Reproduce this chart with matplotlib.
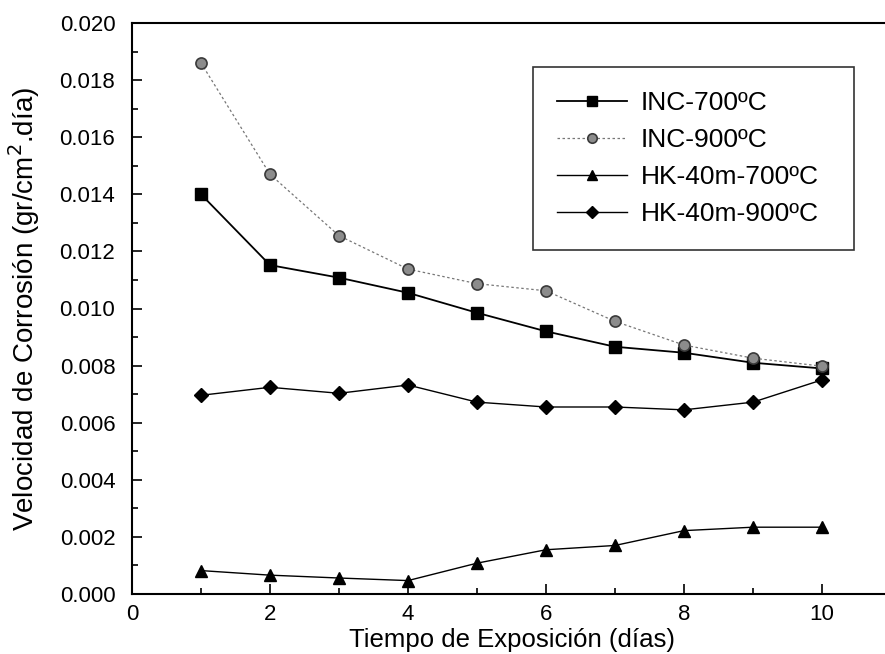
import numpy as np
import matplotlib
matplotlib.use("Agg")
import matplotlib.pyplot as plt
from matplotlib.ticker import MultipleLocator, FormatStrFormatter

plt.rcParams['font.family'] = ['Liberation Sans', 'DejaVu Sans']

dias = [1, 2, 3, 4, 5, 6, 7, 8, 9, 10]
inc_700 = [0.0140, 0.01152, 0.01108, 0.01055, 0.00985, 0.00920, 0.00866, 0.00845, 0.00810, 0.00790]
inc_900 = [0.0186, 0.0147, 0.01255, 0.01138, 0.01087, 0.01062, 0.00955, 0.00872, 0.00826, 0.00798]
hk_700 = [0.00082, 0.00066, 0.00056, 0.00047, 0.00108, 0.00155, 0.00170, 0.00222, 0.00234, 0.00234]
hk_900 = [0.00696, 0.00724, 0.00703, 0.00732, 0.00672, 0.00655, 0.00655, 0.00645, 0.00672, 0.00750]

fig = plt.figure(figsize=(8.85, 6.54), dpi=100)
# right side of the original is cut off, so the axes goes slightly past the figure
ax = fig.add_axes([132/885, 60/654, 759/885, 571/654])

ax.plot(dias, inc_700, color='black', lw=1.3, marker='s', ms=8, label='INC-700ºC')
ax.plot(dias, inc_900, color='#777777', lw=0.9, ls=(0, (2, 2)), marker='o', ms=8,
        mfc='#8c8c8c', mec='#3a3a3a', mew=1.2, label='INC-900ºC')
ax.plot(dias, hk_700, color='black', lw=1.0, marker='^', ms=9, label='HK-40m-700ºC')
ax.plot(dias, hk_900, color='black', lw=1.0, marker='D', ms=7, label='HK-40m-900ºC')

ax.set_xlim(0, 11)
ax.set_ylim(0, 0.020)
ax.xaxis.set_major_locator(MultipleLocator(2))
ax.xaxis.set_minor_locator(MultipleLocator(1))
ax.yaxis.set_major_locator(MultipleLocator(0.002))
ax.yaxis.set_minor_locator(MultipleLocator(0.001))
ax.yaxis.set_major_formatter(FormatStrFormatter('%.3f'))
ax.tick_params(which='both', direction='in', labelsize=16, width=1.2)
ax.tick_params(which='major', length=7)
ax.tick_params(which='minor', length=4)
ax.tick_params(axis='x', pad=7)
ax.tick_params(axis='y', pad=12)
for s in ax.spines.values():
    s.set_linewidth(1.5)

ax.set_xlabel('Tiempo de Exposición (días)', fontsize=18.5, labelpad=2)
ax.set_ylabel('Velocidad de Corrosión (gr/cm$^2$.día)', fontsize=20, labelpad=13)

leg = ax.legend(loc='upper left', bbox_to_anchor=(533/885, 1 - 245/654, 321/885, 178/654),
                bbox_transform=fig.transFigure, mode='expand', fontsize=19, frameon=True,
                fancybox=False, edgecolor='black', handlelength=2.65,
                handletextpad=0.5, labelspacing=0.49, borderpad=0.92,
                borderaxespad=0, markerscale=0.85)
leg.get_frame().set_linewidth(1.2)

fig.savefig('out.png', dpi=100)
